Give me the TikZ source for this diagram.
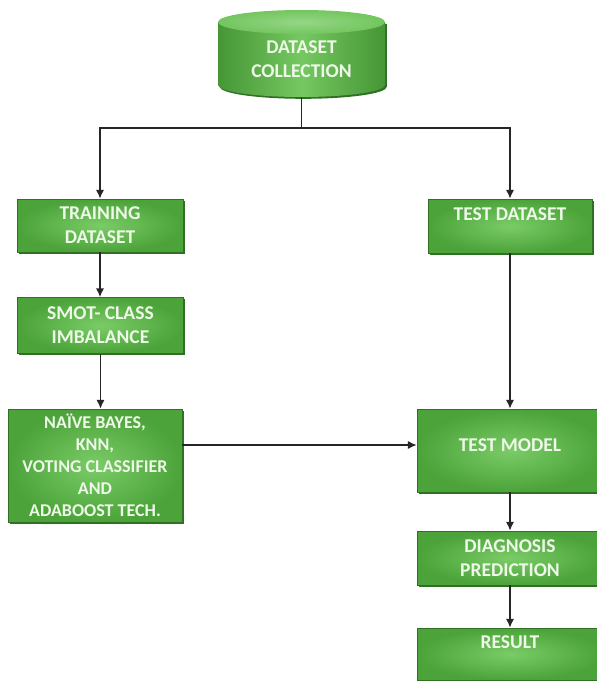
\documentclass[tikz,border=0pt]{standalone}
\usepackage{fontspec}
\setmainfont{Carlito}
\usetikzlibrary{arrows.meta,shadows}
\definecolor{gmid}{RGB}{76,163,58}
\definecolor{glight}{RGB}{122,204,102}
\definecolor{gdark}{RGB}{48,112,36}
\definecolor{gtext}{RGB}{238,248,232}
\begin{document}
\begin{tikzpicture}[x=1pt,y=1pt,
  box/.style={rectangle, draw=gdark, line width=0.4pt, shading=radial,
    inner color=glight, outer color=gmid,
    drop shadow={shadow xshift=1.8pt, shadow yshift=-1.8pt, fill=gdark, opacity=1},
    text=gtext, font=\bfseries\fontsize{19.5}{24}\selectfont, align=center, inner sep=0pt},
  txt/.style={text=gtext, font=\bfseries\fontsize{19.5}{24}\selectfont, align=center, inner sep=0pt},
  arr/.style={-{Latex[length=9pt,width=8.5pt]}, line width=1.8pt, draw=black!85},
  conn/.style={line width=1.8pt, draw=black!85}]
\useasboundingbox (0,0) rectangle (597,-681);
\fill[white] (0,0) rectangle (597,-681);

% cylinder
\fill[gdark] (219.8,-23.8) -- (219.8,-86.8) arc[start angle=180,end angle=360,x radius=83.5,y radius=12] -- (386.8,-23.8) -- cycle;
\shade[left color=gmid!92!black, right color=gmid!92!black, middle color=glight!90!gmid]
  (218,-22) -- (218,-85) arc[start angle=180,end angle=360,x radius=83.5,y radius=12] -- (385,-22) -- cycle;
\shade[inner color=glight!80!white, outer color=glight!85!gmid] (301.5,-22) ellipse [x radius=83.5, y radius=12];
\node[txt, minimum width=167pt, minimum height=75pt] (dc) at (301.5,-59.5) {DATASET\\COLLECTION};

% boxes
\node[box, minimum width=166pt, minimum height=53pt] (train) at (100,-225.5) {TRAINING\\DATASET};
\node[box, minimum width=164pt, minimum height=54pt] (test) at (510,-226) {};
\node[txt] (testlbl) at (510,-214) {TEST DATASET};
\node[box, minimum width=166pt, minimum height=56pt] (smot) at (100.5,-325.5) {SMOT- CLASS\\IMBALANCE};
\node[box, minimum width=174pt, minimum height=113pt, font=\bfseries\fontsize{18}{22}\selectfont] (nb) at (95,-465.5)
  {NAÏVE BAYES,\\KNN,\\VOTING CLASSIFIER\\AND\\ADABOOST TECH.};
\node[box, minimum width=186pt, minimum height=83pt] (tm) at (510,-450.5) {};
\node[txt] (tmlbl) at (510,-445) {TEST MODEL};
\node[box, minimum width=186pt, minimum height=54pt] (diag) at (510,-558) {DIAGNOSIS\\PREDICTION};
\node[box, minimum width=186pt, minimum height=52pt] (result) at (510,-654) {};
\node[txt] (reslbl) at (510,-642) {RESULT};

% connectors
\coordinate (split) at (301.5,-128);
\draw[conn] (dc.south) -- (split);
\draw[arr] (split) -| (train.north);
\draw[arr] (split) -| (test.north);
\draw[arr] (train.south) -- (train.south |- smot.north);
\draw[arr] (smot.south) -- (smot.south |- nb.north);
\draw[arr] ([yshift=20.5pt]nb.east) -- ([yshift=20.5pt]nb.east -| tm.west);
\draw[arr] (test.south) -- (tm.north);
\draw[arr] (tm.south) -- (diag.north);
\draw[arr] (diag.south) -- (result.north);
\end{tikzpicture}
\end{document}
